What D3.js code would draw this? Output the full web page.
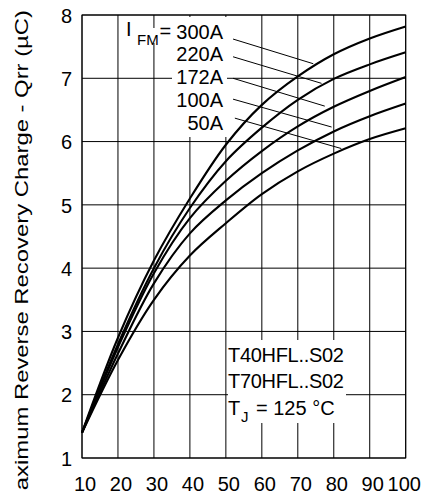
<!DOCTYPE html>
<html>
<head>
<meta charset="utf-8">
<script src="https://cdn.jsdelivr.net/npm/d3@7"></script>
<style>
  html, body { margin: 0; padding: 0; background: #fff; }
  svg { display: block; }
  text { font-family: "Liberation Sans", Arial, Helvetica, sans-serif; fill: #000; }
</style>
</head>
<body>
<svg id="chart" width="448" height="492"></svg>
<script>
// ---- data ----
const xTicks = [10, 20, 30, 40, 50, 60, 70, 80, 90, 100];
const yTicks = [1, 2, 3, 4, 5, 6, 7, 8];
const seriesNames = ["300A", "220A", "172A", "100A", "50A"];
const diF = [10, 20, 30, 40, 50, 60, 70, 80, 90, 100];
const q300 = [1.4, 2.90, 4.12, 5.10, 5.95, 6.58, 7.03, 7.38, 7.63, 7.82];
const q220 = [1.4, 2.80, 4.00, 4.95, 5.69, 6.22, 6.66, 6.99, 7.22, 7.41];
const q172 = [1.4, 2.75, 3.92, 4.79, 5.38, 5.85, 6.24, 6.55, 6.80, 7.02];
const q100 = [1.4, 2.65, 3.76, 4.55, 5.07, 5.50, 5.86, 6.16, 6.40, 6.60];
const q50  = [1.4, 2.55, 3.50, 4.20, 4.71, 5.17, 5.53, 5.81, 6.04, 6.21];
// leader lines (data units): start and end for each label
const leaderFrom = [[52.0, 7.62], [52.0, 7.34], [52.0, 7.00], [52.0, 6.67], [52.5, 6.37]];
const leaderTo   = [[74.3, 7.23], [76.6, 6.92], [77.5, 6.56], [79.4, 6.23], [82.1, 5.89]];
const noteLines = ["T40HFL..S02", "T70HFL..S02"];
const yTitle = "Maximum Reverse Recovery Charge - Qrr (µC)";

const series = [q300, q220, q172, q100, q50];

// ---- layout ----
const svg = d3.select("#chart");
const pL = 82, pR = 405.7, pT = 15, pB = 458;
const x = d3.scaleLinear().domain([10, 100]).range([pL, pR]);
const y = d3.scaleLinear().domain([1, 8]).range([pB, pT]);

// grid
const grid = svg.append("g").attr("stroke", "#000").attr("stroke-width", 1);
grid.selectAll("line.v").data(xTicks).join("line")
  .attr("x1", d => x(d)).attr("x2", d => x(d))
  .attr("y1", pT).attr("y2", pB);
grid.selectAll("line.h").data(yTicks).join("line")
  .attr("y1", d => y(d)).attr("y2", d => y(d))
  .attr("x1", pL).attr("x2", pR);

// axes (labels only)
const xAxis = svg.append("g").attr("transform", `translate(0,${pB})`)
  .call(d3.axisBottom(x).tickValues(xTicks).tickFormat(d3.format("d")).tickSize(0).tickPadding(0));
xAxis.select(".domain").remove();
xAxis.selectAll("text").attr("font-size", 20).attr("dy", null).attr("y", 32.5)
  .attr("dx", d => d === 100 ? -2 : 2.5)
  .style("font-family", "'Liberation Sans', Arial, sans-serif");

const yAxis = svg.append("g").attr("transform", `translate(${pL},0)`)
  .call(d3.axisLeft(y).tickValues(yTicks).tickFormat(d3.format("d")).tickSize(0).tickPadding(10));
yAxis.select(".domain").remove();
yAxis.selectAll("text").attr("font-size", 20).attr("dy", "0.36em")
  .style("font-family", "'Liberation Sans', Arial, sans-serif");

// frame
svg.append("rect").attr("x", pL).attr("y", pT)
  .attr("width", pR - pL).attr("height", pB - pT)
  .attr("fill", "none").attr("stroke", "#000").attr("stroke-width", 1);

// white backgrounds for annotation text
svg.append("rect").attr("x", 172).attr("y", 17).attr("width", 55).attr("height", 120).attr("fill", "#fff");
svg.append("rect").attr("x", 136).attr("y", 28).attr("width", 25).attr("height", 15).attr("fill", "#fff");
svg.append("rect").attr("x", 228).attr("y", 340).attr("width", 118).attr("height", 83).attr("fill", "#fff");

// curves
const line = d3.line().x((d, i) => x(diF[i])).y(d => y(d)).curve(d3.curveCatmullRom.alpha(0.5));
svg.append("g").selectAll("path").data(series).join("path")
  .attr("d", d => line(d))
  .attr("fill", "none").attr("stroke", "#000").attr("stroke-width", 2.1);

// leader lines
svg.append("g").selectAll("line").data(leaderFrom).join("line")
  .attr("x1", d => x(d[0])).attr("y1", d => y(d[1]))
  .attr("x2", (d, i) => x(leaderTo[i][0])).attr("y2", (d, i) => y(leaderTo[i][1]))
  .attr("stroke", "#000").attr("stroke-width", 1);

// legend labels
const labelBase = [39, 61, 84, 107, 130];
svg.append("g").selectAll("text").data(seriesNames).join("text")
  .attr("x", 223).attr("y", (d, i) => labelBase[i])
  .attr("text-anchor", "end").attr("font-size", 20).text(d => d);
svg.append("text").attr("x", 126).attr("y", 36).attr("font-size", 20).text("I");
svg.append("text").attr("x", 137).attr("y", 45).attr("font-size", 15).text("FM");
svg.append("text").attr("x", 159.5).attr("y", 38).attr("font-size", 20).text("=");

// note box text
svg.append("g").selectAll("text").data(noteLines).join("text")
  .attr("x", 228).attr("y", (d, i) => 361.5 + i * 26.5)
  .attr("font-size", 20).attr("letter-spacing", -0.3).text(d => d);
svg.append("text").attr("x", 228).attr("y", 414.5).attr("font-size", 20).text("T");
svg.append("text").attr("x", 241).attr("y", 422).attr("font-size", 15).text("J");
svg.append("text").attr("x", 256).attr("y", 414.5).attr("font-size", 20).text("= 125 °C");

// y title
svg.append("text")
  .attr("transform", "translate(27.5,510) rotate(-90)")
  .attr("font-size", 17.5)
  .attr("textLength", 500).attr("lengthAdjust", "spacingAndGlyphs")
  .text(yTitle);
</script>
</body>
</html>
